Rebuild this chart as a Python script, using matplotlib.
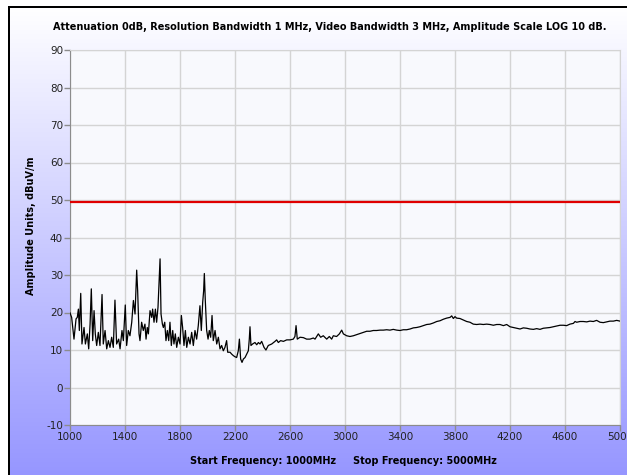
import numpy as np
import matplotlib
matplotlib.use("Agg")
import matplotlib.pyplot as plt
from matplotlib.lines import Line2D

plt.rcParams["axes.unicode_minus"] = False

# ---- data ----
freq_mhz = [
    1000, 1012, 1029, 1044, 1053, 1061, 1068, 1078, 1087, 1102, 1112, 1126, 1136, 1146, 1155, 1165,
    1175, 1184, 1194, 1206, 1218, 1233, 1242, 1255, 1267, 1279, 1291, 1303, 1315, 1327, 1339, 1354,
    1364, 1378, 1388, 1402, 1412, 1424, 1436, 1449, 1461, 1473, 1485, 1492, 1502, 1509, 1521, 1533,
    1545, 1553, 1562, 1570, 1582, 1594, 1601, 1611, 1621, 1630, 1640, 1647, 1655, 1662, 1672, 1679,
    1689, 1698, 1708, 1718, 1727, 1737, 1747, 1756, 1766, 1776, 1788, 1800, 1810, 1819, 1829, 1839,
    1849, 1861, 1873, 1885, 1897, 1909, 1921, 1933, 1945, 1955, 1965, 1972, 1977, 1984, 1994, 2004,
    2013, 2023, 2033, 2042, 2055, 2067, 2079, 2091, 2103, 2115, 2127, 2139, 2147, 2164, 2176, 2188,
    2200, 2212, 2224, 2232, 2241, 2251, 2261, 2273, 2285, 2297, 2304, 2309, 2316, 2328, 2345, 2358,
    2370, 2382, 2394, 2411, 2425, 2442, 2467, 2491, 2503, 2515, 2532, 2552, 2576, 2600, 2624, 2636,
    2644, 2653, 2673, 2697, 2721, 2745, 2770, 2782, 2806, 2823, 2842, 2867, 2886, 2903, 2915, 2939,
    2959, 2976, 2988, 3012, 3036, 3061, 3085, 3109, 3133, 3158, 3182, 3206, 3230, 3255, 3279, 3303,
    3327, 3351, 3376, 3400, 3424, 3448, 3473, 3497, 3521, 3545, 3570, 3594, 3618, 3642, 3667, 3691,
    3715, 3739, 3764, 3776, 3788, 3800, 3812, 3836, 3861, 3885, 3909, 3933, 3958, 3982, 4006, 4030,
    4055, 4079, 4103, 4127, 4152, 4176, 4200, 4224, 4248, 4273, 4297, 4321, 4345, 4370, 4394, 4418,
    4442, 4467, 4491, 4515, 4539, 4564, 4588, 4612, 4636, 4661, 4673, 4685, 4709, 4733, 4758, 4782,
    4806, 4830, 4855, 4879, 4903, 4927, 4952, 4976, 5000,
]
amplitude_dbuv = [
    19.9, 18.7, 12.9, 18.3, 18.7, 20.9, 15.2, 25.1, 11.6, 16.0, 11.6, 14.3, 10.3, 16.9, 26.3, 12.5,
    20.5, 14.3, 11.2, 14.7, 11.2, 24.8, 11.6, 15.2, 10.3, 12.5, 10.7, 13.4, 10.7, 23.3, 11.6, 12.9,
    10.3, 15.2, 12.5, 22.0, 11.2, 15.2, 13.8, 17.4, 23.2, 19.6, 31.3, 25.8, 14.3, 12.5, 17.4, 15.2,
    16.9, 12.9, 16.0, 14.3, 20.5, 18.7, 20.9, 17.4, 20.9, 17.4, 21.4, 27.6, 34.3, 19.6, 16.9, 16.0,
    17.4, 12.5, 15.2, 12.5, 17.4, 11.2, 15.2, 11.6, 14.3, 10.7, 13.4, 11.6, 19.2, 16.0, 11.2, 15.2,
    10.7, 13.4, 11.6, 14.7, 11.2, 15.2, 12.9, 16.5, 21.8, 15.2, 22.7, 25.8, 30.4, 23.2, 15.2, 12.9,
    15.2, 13.4, 19.2, 12.5, 15.2, 11.6, 13.4, 10.3, 11.2, 9.8, 10.7, 12.5, 9.4, 9.4, 8.9, 8.5,
    8.2, 8.0, 9.8, 12.9, 7.6, 6.7, 7.6, 8.0, 8.9, 9.8, 12.9, 16.2, 11.2, 11.6, 12.0, 11.4,
    12.0, 11.6, 12.3, 10.7, 10.0, 11.2, 11.6, 12.3, 12.7, 12.0, 12.5, 12.3, 12.7, 12.7, 12.9, 13.6,
    16.5, 12.9, 13.4, 13.3, 12.9, 12.9, 13.2, 12.9, 14.3, 13.4, 13.8, 12.9, 13.6, 12.9, 13.8, 13.6,
    14.3, 15.3, 14.3, 13.8, 13.6, 13.8, 14.1, 14.4, 14.7, 15.0, 15.0, 15.2, 15.2, 15.3, 15.3, 15.4,
    15.3, 15.5, 15.3, 15.2, 15.4, 15.4, 15.6, 15.9, 16.0, 16.2, 16.5, 16.8, 16.9, 17.2, 17.6, 17.8,
    18.2, 18.5, 18.7, 19.1, 18.4, 18.9, 18.5, 18.4, 18.0, 17.6, 17.4, 16.9, 16.8, 16.9, 16.8, 16.9,
    16.8, 16.6, 16.8, 16.8, 16.5, 16.8, 16.2, 16.0, 15.8, 15.6, 15.9, 15.8, 15.6, 15.5, 15.7, 15.5,
    15.8, 15.9, 16.0, 16.2, 16.4, 16.6, 16.6, 16.5, 16.9, 17.1, 17.6, 17.4, 17.6, 17.6, 17.5, 17.7,
    17.6, 17.9, 17.4, 17.3, 17.5, 17.7, 17.7, 17.9, 17.7,
]
limit_level = 49.5
x_ticks = [1000, 1400, 1800, 2200, 2600, 3000, 3400, 3800, 4200, 4600, 5000]
y_ticks = [-10, 0, 10, 20, 30, 40, 50, 60, 70, 80, 90]
title_text = "Attenuation 0dB, Resolution Bandwidth 1 MHz, Video Bandwidth 3 MHz, Amplitude Scale LOG 10 dB."
xlabel_text = "Start Frequency: 1000MHz     Stop Frequency: 5000MHz"
ylabel_text = "Amplitude Units, dBuV/m"

W, H = 627, 475
fig = plt.figure(figsize=(W / 100, H / 100), dpi=100)
fig.patch.set_facecolor("white")

# gradient background (inside the frame), built as an RGB pixel array
rows = np.arange(H)[:, None]
frac = np.clip((rows - 7) / (H - 7), 0, 1)
top = np.array([1.0, 1.0, 1.0])
bot = np.array([150 / 255, 150 / 255, 1.0])
bg_img = np.ones((H, W, 3))
grad_rows = top[None, :] * (1 - frac) + bot[None, :] * frac
bg_img[:, :, :] = grad_rows[:, None, :]
bg_img[:7, :, :] = 1.0
bg_img[:, :9, :] = 1.0
bg_img[6:8, 9:, :] = 0.0
bg_img[6:, 8:10, :] = 0.0
fig.figimage(bg_img, xo=0, yo=0, origin="upper", zorder=-10)

# main axes
L, R, T, B = 70, 620, 50, 425
ax = fig.add_axes([L / W, 1 - B / H, (R - L) / W, (B - T) / H])
ax.set_facecolor("#F8F9FD")
ax.set_xlim(1000, 5000)
ax.set_ylim(-10, 90)
ax.set_xticks(x_ticks)
ax.set_yticks(y_ticks)
ax.grid(True, color="#D4D4D4", lw=1.0)
ax.set_axisbelow(True)
for s in ["top", "right"]:
    ax.spines[s].set_color("#D4D4D4")
for s in ["left", "bottom"]:
    ax.spines[s].set_color("#8C8C8C")
ax.tick_params(axis="both", colors="#8C8C8C", labelcolor="#222222", labelsize=7.5,
               length=4, width=1, direction="out", pad=1)

ax.plot(freq_mhz, amplitude_dbuv, color="black", lw=0.9, zorder=3)
ax.axhline(limit_level, color="#E00000", lw=1.6, zorder=4)

fig.text(330 / W, 1 - 27 / H, title_text, ha="center", va="center",
         fontsize=7.0, fontweight="bold", color="black")
fig.text(343 / W, 1 - 461 / H, xlabel_text, ha="center", va="center",
         fontsize=7.0, fontweight="bold", color="black")
fig.text(31 / W, 1 - 226 / H, ylabel_text, ha="center", va="center", rotation=90,
         fontsize=7.0, fontweight="bold", color="black")

fig.savefig("out.png", dpi=100)
